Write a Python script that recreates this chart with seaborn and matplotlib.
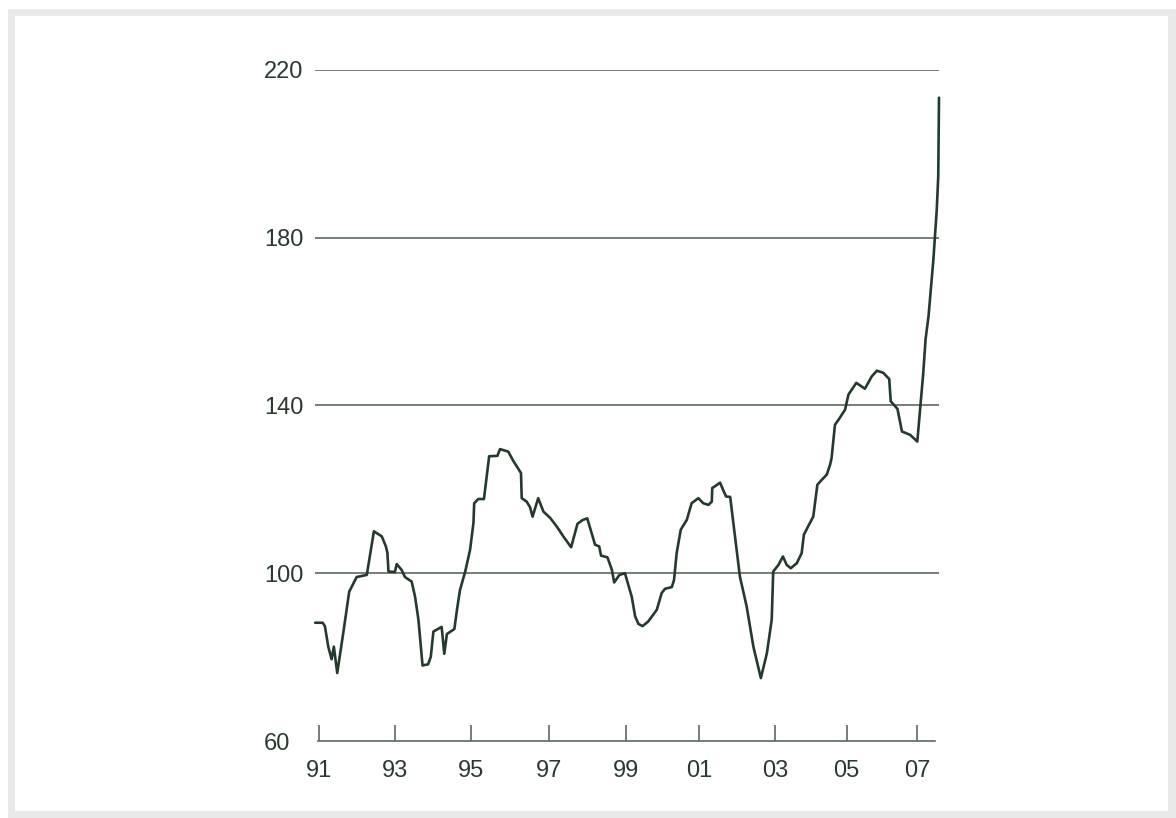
import matplotlib
matplotlib.use("Agg")
import matplotlib.pyplot as plt
from matplotlib.patches import Rectangle
import seaborn as sns
import pandas as pd

# ---- data ----
years = [1990.91, 1991.11, 1991.17, 1991.26, 1991.35, 1991.41, 1991.50, 1991.66, 1991.82, 1992.02,
         1992.29, 1992.48, 1992.69, 1992.80, 1992.84, 1992.87, 1993.04, 1993.09, 1993.22, 1993.31,
         1993.49, 1993.58, 1993.67, 1993.78, 1993.93, 1994.00, 1994.07, 1994.29, 1994.36, 1994.43,
         1994.63, 1994.70, 1994.78, 1994.92, 1995.05, 1995.14, 1995.16, 1995.27, 1995.42, 1995.56,
         1995.78, 1995.85, 1996.07, 1996.21, 1996.41, 1996.43, 1996.56, 1996.65, 1996.72, 1996.87,
         1997.01, 1997.19, 1997.37, 1997.54, 1997.75, 1997.92, 1998.06, 1998.18, 1998.39, 1998.50,
         1998.55, 1998.72, 1998.84, 1998.90, 1999.04, 1999.19, 1999.23, 1999.37, 1999.46, 1999.55,
         1999.66, 1999.81, 2000.04, 2000.17, 2000.26, 2000.44, 2000.50, 2000.57, 2000.68, 2000.84,
         2000.97, 2001.15, 2001.28, 2001.42, 2001.51, 2001.52, 2001.73, 2001.81, 2001.89, 2002.00,
         2002.13, 2002.26, 2002.44, 2002.62, 2002.82, 2002.98, 2003.11, 2003.15, 2003.29, 2003.41,
         2003.51, 2003.62, 2003.78, 2003.91, 2003.97, 2004.09, 2004.22, 2004.33, 2004.45, 2004.58,
         2004.67, 2004.71, 2004.80, 2004.91, 2005.07, 2005.16, 2005.37, 2005.60, 2005.78, 2005.92,
         2006.09, 2006.25, 2006.29, 2006.47, 2006.59, 2006.81, 2007.00, 2007.16, 2007.22, 2007.30,
         2007.43, 2007.52, 2007.56, 2007.58]
values = [88.2, 88.2, 87.4, 82.5, 79.5, 82.5, 76.2, 85.7, 95.6, 99.1,
          99.6, 110.0, 108.8, 106.4, 104.9, 100.4, 100.3, 102.2, 100.8, 99.1,
          98.0, 94.4, 88.9, 78.0, 78.3, 80.1, 86.1, 87.2, 80.8, 85.5,
          86.7, 91.3, 96.0, 100.4, 105.6, 112.0, 116.7, 117.7, 117.7, 127.9,
          128.0, 129.6, 129.0, 126.7, 123.9, 117.9, 117.1, 115.8, 113.5, 117.9,
          114.7, 113.2, 111.1, 108.8, 106.2, 111.8, 112.7, 113.1, 106.8, 106.4,
          104.2, 103.8, 100.8, 97.8, 99.6, 100.0, 98.7, 94.4, 89.7, 87.9,
          87.4, 88.5, 91.3, 95.3, 96.3, 96.7, 98.4, 104.8, 110.4, 112.7,
          116.7, 117.9, 116.7, 116.3, 117.1, 120.3, 121.6, 119.9, 118.3, 118.2,
          108.8, 99.2, 92.1, 82.5, 75.0, 80.9, 88.9, 100.4, 102.0, 104.0,
          102.0, 101.2, 102.4, 104.8, 109.2, 111.3, 113.5, 121.1, 122.3, 123.5,
          125.9, 127.5, 135.4, 136.8, 139.0, 142.6, 145.4, 144.0, 146.9, 148.3,
          147.8, 146.3, 141.0, 139.2, 133.8, 133.0, 131.4, 147.8, 155.7, 161.3,
          174.8, 186.7, 194.7, 213.4]

# tick marks sit at these points on the time axis in the reference
x_ticks = [1991.0, 1993.04, 1995.08, 1997.16, 1999.21, 2001.17, 2003.2, 2005.11, 2007.0]
x_labels = ["91", "93", "95", "97", "99", "01", "03", "05", "07"]
y_ticks = [60, 100, 140, 180, 220]
y_labels = ["60", "100", "140", "180", "220"]

# ---- style ----
sns.set_theme(style="white")
plt.rcParams["font.family"] = ["Liberation Sans", "DejaVu Sans"]

W, H = 1176, 818
fig = plt.figure(figsize=(W / 100, H / 100), dpi=100)
fig.patch.set_facecolor("white")

# grey frame
fig.patches.append(Rectangle((8 / W, 0), 1 - 8 / W, (H - 9) / H, transform=fig.transFigure,
                             facecolor="#e8e9e8", edgecolor="none", zorder=-20))
fig.patches.append(Rectangle((15 / W, 7 / H), (1168 - 15) / W, (H - 16 - 7) / H,
                             transform=fig.transFigure, facecolor="white", edgecolor="none", zorder=-19))

ax_left, ax_right = 315, 939
ax_top, ax_bottom = 70, 741
ax = fig.add_axes([ax_left / W, (H - ax_bottom) / H, (ax_right - ax_left) / W, (ax_bottom - ax_top) / H])
ax.set_facecolor("none")
ax.set_zorder(5)

text_color = "#2b3a30"
grid_color = "#5b6a5f"
line_color = "#243a2c"

df = pd.DataFrame({"year": years, "value": values})

for yv in y_ticks[1:]:
    ax.axhline(yv, color=grid_color, lw=1.2, zorder=1)

sns.lineplot(data=df, x="year", y="value", ax=ax, color=line_color, linewidth=1.9,
             sort=False, estimator=None, zorder=3, clip_on=False)

ax.set_xlim(1990.906, 2007.58)
ax.set_ylim(60, 220)

ax.set_xticks(x_ticks)
ax.set_xticklabels(x_labels)
ax.set_yticks(y_ticks)
ax.set_yticklabels(y_labels)
ax.set_xlabel("")
ax.set_ylabel("")

for s in ["top", "right", "left"]:
    ax.spines[s].set_visible(False)
ax.spines["bottom"].set_visible(True)
ax.spines["bottom"].set_color(grid_color)
ax.spines["bottom"].set_linewidth(1.2)
ax.spines["bottom"].set_bounds(1990.99, 2007.48)

ax.tick_params(axis="x", direction="in", length=11.5, width=1.2, color=grid_color,
               labelsize=17, labelcolor=text_color, pad=14, bottom=True)
ax.tick_params(axis="y", length=0, labelsize=17, labelcolor=text_color, pad=(ax_left - 264) * 0.72)
for lab in ax.get_yticklabels():
    lab.set_horizontalalignment("left")

fig.savefig("out.png", dpi=100, facecolor="white")
